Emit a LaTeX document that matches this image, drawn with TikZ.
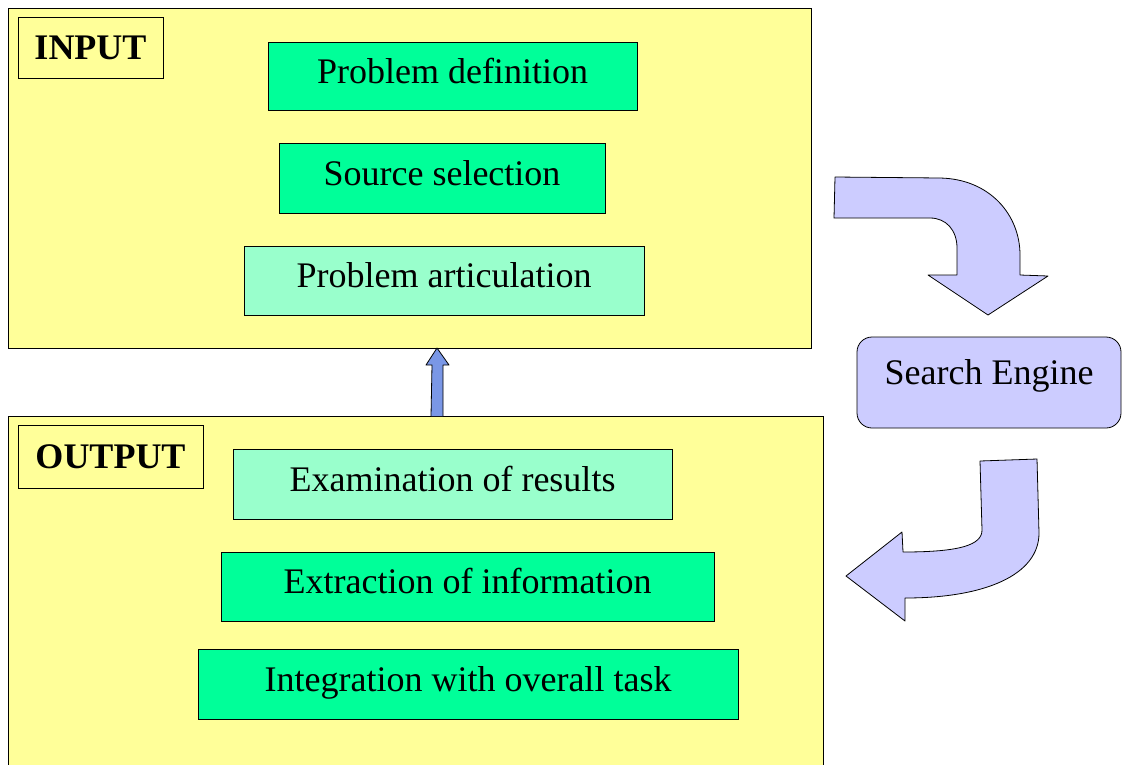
\documentclass[tikz,border=0pt]{standalone}
\usepackage{fontspec}
\setmainfont{Liberation Serif}
\usetikzlibrary{calc}
\definecolor{paneyellow}{HTML}{FFFF99}
\definecolor{stepgreen}{HTML}{00FF99}
\definecolor{steplight}{HTML}{99FFCC}
\definecolor{enginelav}{HTML}{CCCCFF}
\definecolor{upblue}{HTML}{7A97E6}
\tikzset{
  pane/.style={draw=black, fill=paneyellow, line width=0.8pt, inner sep=0pt, outer sep=0pt},
  tag/.style={draw=black, line width=0.8pt, inner sep=0pt, font=\fontsize{36}{40}\selectfont\bfseries},
  stepbox/.style={draw=black, fill=stepgreen, line width=0.8pt, inner sep=0pt, text height=24pt, text depth=10pt, font=\fontsize{36}{40}\selectfont},
  steplite/.style={stepbox, fill=steplight},
  engine/.style={draw=black, fill=enginelav, line width=0.8pt, rounded corners=15pt, inner sep=0pt, font=\fontsize{36}{40}\selectfont},
  bentarrow/.style={draw=black, fill=enginelav, line width=0.8pt, line join=round},
}
\begin{document}
\begin{tikzpicture}[x=1pt, y=-1pt]
			%%%%% START %%%%%
			\useasboundingbox (0, 0) rectangle (1123, 764);
			
			% input pane
			\node[pane, minimum width=803pt, minimum height=340pt] (input) at (409.5, 178) {};
			\node[tag, minimum width=145pt, minimum height=61pt] (intag) at (90.5, 47.5) {INPUT};
			\node[stepbox, minimum width=369pt, minimum height=68pt] (define) at (452.5, 76) {Problem definition};
			\node[stepbox, minimum width=326pt, minimum height=70pt] (source) at (442, 178) {Source selection};
			\node[steplite, minimum width=400pt, minimum height=69pt] (articulate) at (444, 280.5) {Problem articulation};
			
			% output pane
			\node[pane, minimum width=815pt, minimum height=370pt] (output) at (415.5, 601) {};
			\node[tag, minimum width=185pt, minimum height=63pt] (outtag) at (110.5, 456.5) {OUTPUT};
			\node[steplite, minimum width=439pt, minimum height=70pt] (examine) at (452.5, 484) {Examination of results};
			\node[stepbox, minimum width=493pt, minimum height=69pt] (extract) at (467.5, 586.5) {Extraction of information};
			\node[stepbox, minimum width=540pt, minimum height=70pt] (integrate) at (468, 684) {Integration with overall task};
			
			% search engine
			\node[engine, minimum width=264pt, minimum height=91pt, text depth=22pt] (engine) at (989, 382.5) {Search Engine};
			
			% output back to input
			\coordinate (upfoot) at ($(output.north west)+(429, 0)$);
			\coordinate (uptip) at ($(input.south west)+(429, 0)$);
			\draw[draw=black, fill=upblue, line width=0.8pt, line join=round]
				($(upfoot)+(-6, 0)$) -- ($(uptip)+(-5, 17)$) -- ($(uptip)+(-11, 17)$) -- (uptip)
				-- ($(uptip)+(12, 17)$) -- ($(uptip)+(6, 17)$) -- ($(upfoot)+(6, 0)$);
			
			% input to engine
			\draw[bentarrow] (835, 177) -- (940, 178) .. controls (990, 179) and (1020, 215) .. (1020, 255)
				-- (1020, 275) -- (1048, 276) -- (988, 315) -- (928, 275) -- (957, 275) -- (957, 248)
				.. controls (957, 230) and (946, 218) .. (930, 218) -- (834, 218) -- cycle;
			
			% engine to output
			\draw[bentarrow] (980, 461) -- (1037, 459) -- (1039, 533)
				.. controls (1039, 575) and (985, 598) .. (905, 598) -- (905, 621) -- (846, 576)
				-- (902, 532) -- (903, 552) .. controls (960, 552) and (982, 545) .. (982, 530) -- cycle;
			%%%%% END %%%%%
		\end{tikzpicture}
\end{document}
